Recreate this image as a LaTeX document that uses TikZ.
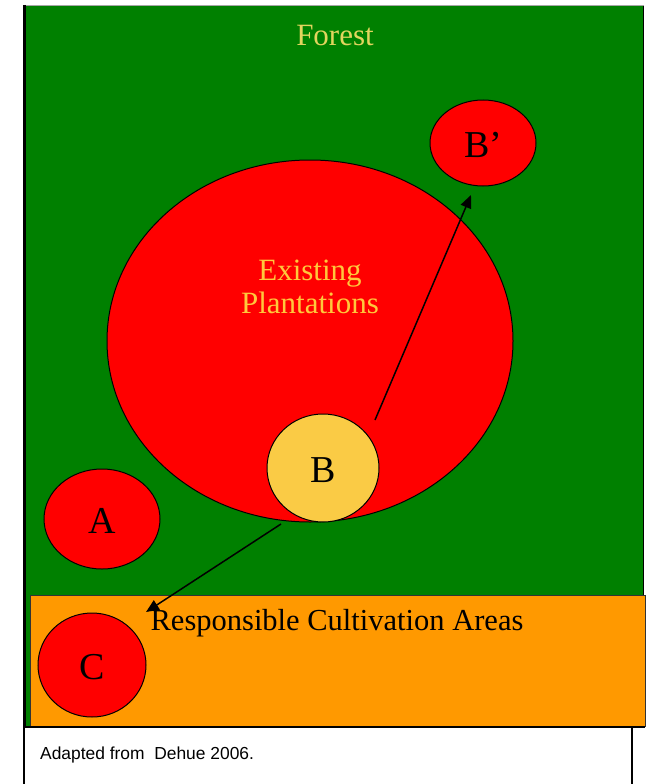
\documentclass[tikz,border=0pt]{standalone}
\usepackage{fontspec}
\setmainfont{Liberation Serif}
\newfontfamily\capfont{Liberation Sans}
\usetikzlibrary{arrows.meta}
\definecolor{forestg}{HTML}{008000}
\definecolor{plantred}{HTML}{FF0000}
\definecolor{rcaorange}{HTML}{FF9900}
\definecolor{bfill}{HTML}{FACB45}
\definecolor{foresttxt}{HTML}{E2D55E}
\definecolor{plantxt}{HTML}{FFC83C}
\tikzset{
  redspot/.style={draw=black, line width=1pt, fill=plantred},
  lbl/.style={font=\fontsize{38}{42}\selectfont, text=black},
  arr/.style={-{Triangle[length=13pt,width=11pt]}, line width=1.5pt}
}
\begin{document}
\begin{tikzpicture}[x=1pt,y=-1pt]
\useasboundingbox (0,0) rectangle (646,784);
% forest
\fill[forestg] (24,6) rectangle (644,726);
\draw[gray!70, line width=1pt] (24,5.5) -- (644,5.5);
\draw[black, line width=3pt] (24.5,5) -- (24.5,727);
\draw[black, line width=1.5pt] (643.5,6) -- (643.5,727);
\node[text=foresttxt, font=\fontsize{31}{34}\selectfont] (forest) at (335,36) {Forest};
% orange area
\draw[fill=rcaorange, draw=black!80, line width=1pt] (30,595) rectangle (645,726);
\draw[black, line width=2pt] (24,726.5) -- (645,726.5);
% caption box
\draw[black, line width=1.5pt] (24,727) -- (24,784);
\draw[black, line width=1.5pt] (632,727) -- (632,784);
\node[anchor=west, inner sep=0pt, font=\capfont\fontsize{17.4}{19}\selectfont] (cap) at (40,755) {Adapted from\ \ Dehue 2006.};
% existing plantations
\draw[redspot] (310,341) ellipse [x radius=203, y radius=181];
\node[text=plantxt, align=center, font=\fontsize{31}{33}\selectfont] (ep) at (310,287) {Existing\\Plantations};
% B'
\draw[redspot] (483,143) ellipse [x radius=53, y radius=43];
\node[lbl] (bp) at (483,145) {B'};
% B
\draw[draw=black, line width=1pt, fill=bfill] (323,468) ellipse [x radius=56, y radius=54];
\node[lbl] (b) at (323,470) {B};
\coordinate (bs1) at (375,420);
\coordinate (bt1) at (471,195);
\coordinate (bs2) at (281,524);
\coordinate (bt2) at (146,612);
% A
\draw[redspot] (102,519) ellipse [x radius=58, y radius=50];
\node[lbl] (a) at (102,521) {A};
% C
\draw[redspot] (92,665) ellipse [x radius=54, y radius=52];
\node[lbl] (c) at (92,667) {C};
\node[font=\fontsize{30.5}{32}\selectfont, text=black] (rca) at (337,623) {Responsible Cultivation Areas};
% arrows
\draw[arr] (bs1) -- (bt1);
\draw[arr] (bs2) -- (bt2);
\end{tikzpicture}
\end{document}
